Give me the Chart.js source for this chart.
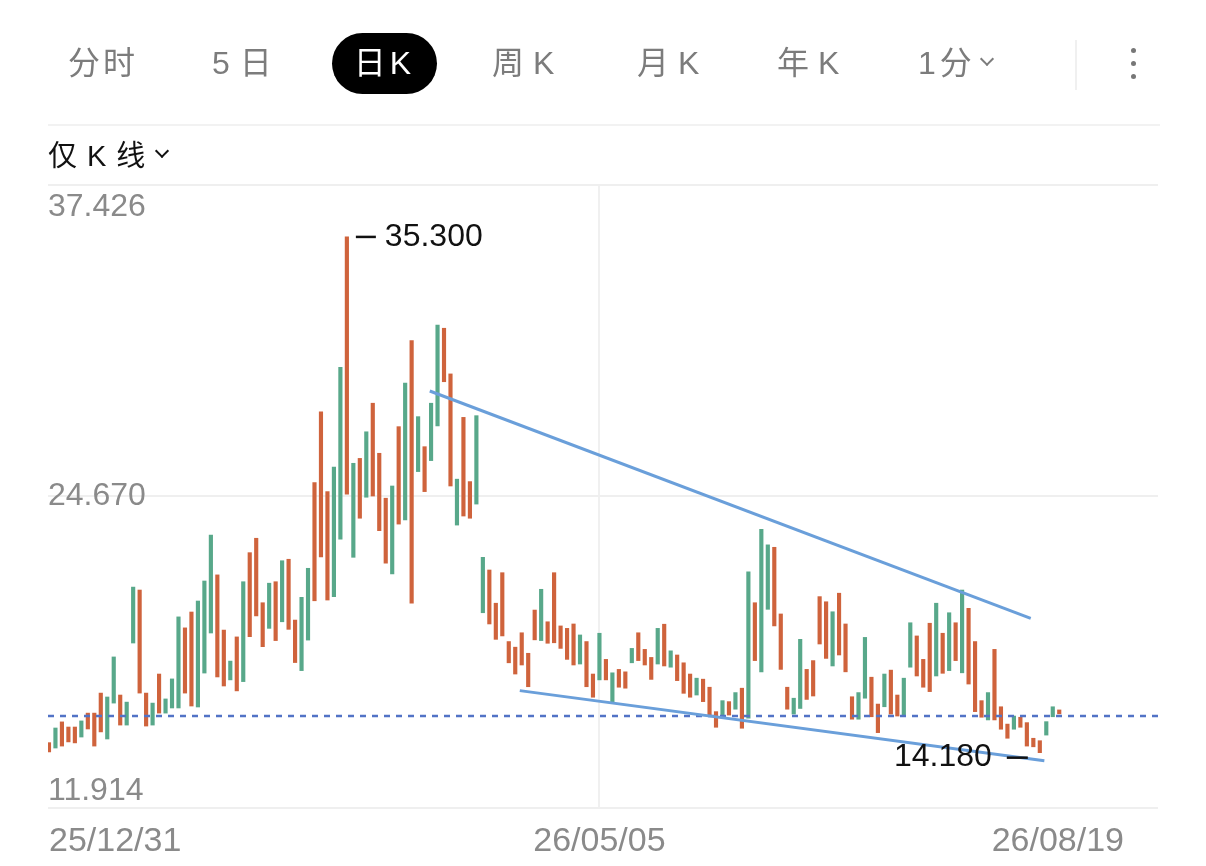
<!DOCTYPE html>
<html>
<head>
<meta charset="utf-8">
<script src="https://cdn.jsdelivr.net/npm/chart.js@4.4.0/dist/chart.umd.min.js"></script>
<style>
  html,body{margin:0;padding:0;background:#fff;}
  #wrap{position:relative;width:1206px;height:866px;overflow:hidden;font-family:"Liberation Sans","Noto Sans CJK SC",sans-serif;}
  #chart{position:absolute;left:0;top:0;}
  .tab{position:absolute;top:40px;font-size:32px;line-height:46px;color:#7c7c7c;letter-spacing:9px;white-space:nowrap;}
  .pill{position:absolute;left:332px;top:33px;width:105px;height:61px;border-radius:31px;background:#000;color:#fff;font-size:32px;line-height:61px;text-align:center;letter-spacing:4px;}
  .chev{display:inline-block;width:8px;height:8px;border-right:2px solid currentColor;border-bottom:2px solid currentColor;transform:rotate(45deg);vertical-align:middle;position:relative;top:-7px;}
  .vsep{position:absolute;left:1075px;top:40px;width:2px;height:50px;background:#f0f0f0;}
  .dot{position:absolute;left:1131px;width:5px;height:5px;border-radius:3px;background:#777;}
  .hline{position:absolute;left:48px;width:1112px;height:2px;background:#f2f2f2;}
  #kmode{position:absolute;left:48px;top:136px;font-size:29px;line-height:40px;color:#111;letter-spacing:10px;white-space:nowrap;}
</style>
</head>
<body>
<div id="wrap">
  <canvas id="chart" width="1206" height="866"></canvas>
  <span class="tab" style="left:68px;letter-spacing:3px">分时</span>
  <span class="tab" style="left:212px;letter-spacing:10px">5日</span>
  <div class="pill">日K</div>
  <span class="tab" style="left:492px">周K</span>
  <span class="tab" style="left:637px">月K</span>
  <span class="tab" style="left:777px">年K</span>
  <span class="tab" style="left:918px;letter-spacing:4px">1分<span class="chev" style="margin-left:6px"></span></span>
  <div class="vsep"></div>
  <div class="dot" style="top:48px"></div>
  <div class="dot" style="top:61px"></div>
  <div class="dot" style="top:74px"></div>
  <div class="hline" style="top:124px"></div>
  <div id="kmode">仅K线<span class="chev" style="color:#111;margin-left:2px"></span></div>
</div>
<script>
// daily candles (body only), oldest first
const openVals = [
  14.21,15.19,14.45,14.62,14.58,15.48,15.15,14.45,15.03,16.46,
  18.10,15.31,16.25,20.96,16.62,15.27,16.21,15.80,16.38,17.20,
  19.74,16.62,16.09,20.39,21.21,23.09,17.28,16.91,17.93,16.71,
  21.18,18.93,19.78,18.52,21.12,18.77,22.04,19.23,17.87,20.54,
  21.73,20.40,22.20,20.43,25.87,29.96,24.77,26.03,23.78,27.32,
  24.69,23.27,21.94,25.10,23.54,29.31,20.30,27.94,24.87,28.49,
  31.69,29.37,25.10,25.38,23.87,23.78,27.98,22.18,19.45,18.82,
  18.96,17.86,17.40,17.77,16.88,18.80,20.87,18.66,18.68,18.45,
  18.00,17.77,19.00,16.88,16.45,19.07,17.16,17.45,16.86,16.82,
  18.45,17.95,17.77,17.18,19.27,17.73,18.35,17.13,16.61,16.45,
  17.23,16.27,15.72,15.22,16.31,15.72,16.64,15.18,21.59,17.95,
  23.33,22.69,19.37,17.59,15.96,16.41,18.82,16.36,16.50,18.63,
  18.04,19.95,18.18,17.49,15.55,16.64,18.90,15.65,15.00,17.40,
  15.76,15.68,17.23,19.50,17.32,16.86,16.68,20.30,17.43,19.91,
  17.95,20.84,16.99,15.86,15.63,16.64,15.52,15.14,14.77,15.68,
  15.22,14.45,14.42,14.18,15.45,16.06,15.77
];
const closeVals = [
  14.59,14.37,15.44,15.23,15.23,14.82,15.80,15.80,16.62,14.74,
  16.21,16.54,15.31,18.67,20.84,16.62,15.31,17.40,15.80,16.01,
  16.01,19.29,19.94,16.05,17.44,19.08,21.46,19.20,17.16,18.92,
  17.09,22.37,22.96,20.32,19.27,21.18,19.54,22.10,19.61,17.54,
  18.79,25.24,28.14,24.87,20.57,22.92,35.30,22.18,26.23,24.64,
  28.49,26.44,24.60,21.50,27.53,23.71,31.05,25.69,26.71,26.14,
  27.56,31.56,29.69,23.50,27.91,25.28,24.36,19.91,21.66,20.30,
  21.55,18.73,18.50,19.09,18.25,20.02,18.77,19.54,21.55,19.37,
  19.27,19.45,17.81,18.73,17.40,17.16,18.00,16.23,17.59,17.49,
  17.86,19.09,18.41,18.08,17.81,19.44,17.68,18.18,17.86,17.40,
  16.54,17.19,16.86,15.86,15.72,16.27,15.96,16.82,15.59,20.32,
  17.49,20.05,22.59,19.86,16.86,15.76,15.99,17.59,17.95,20.57,
  20.36,17.73,20.71,19.45,16.47,15.55,16.41,17.27,16.17,16.06,
  17.56,16.54,15.72,17.68,18.96,18.00,19.48,17.32,19.07,17.54,
  19.50,17.45,20.09,18.73,16.31,15.52,18.41,16.06,15.35,15.14,
  15.63,15.41,14.77,14.67,14.90,15.65,15.93
];

const yTicks = [11.914, 24.670, 37.426];
const xTickIdx = [0, 85, 166];
const xTickLabels = ['25/12/31', '26/05/05', '26/08/19'];
const xMin = -0.15, xMax = 171.25;

const lastPrice = 15.68;
// drawn trend lines [index, price]
const upperTrend = [[58.8, 28.99], [151.6, 19.68]];
const lowerTrend = [[72.7, 16.72], [153.7, 13.85]];

const UP = '#cf633c', DOWN = '#58a88a';

const candles = openVals.map((o, i) => ({x: i, y: [Math.min(o, closeVals[i]), Math.max(o, closeVals[i])]}));
const candleColors = openVals.map((o, i) => closeVals[i] >= o ? UP : DOWN);

const yLabels = {
  id: 'yLabels',
  beforeDatasetsDraw(chart){
    const {ctx, chartArea, scales:{y}} = chart;
    ctx.save();
    ctx.font = '32px "Liberation Sans", Arial, sans-serif';
    ctx.fillStyle = '#8a8a8a';
    ctx.textAlign = 'left';
    ctx.textBaseline = 'middle';
    yTicks.forEach((v, i) => {
      let py = y.getPixelForValue(v);
      if (i === 0) py -= 17;
      if (i === yTicks.length - 1) py += 22;
      ctx.fillText(v.toFixed(3), chartArea.left, py);
    });
    ctx.restore();
  }
};

const extremes = {
  id: 'extremes',
  afterDatasetsDraw(chart){
    const {ctx, scales:{x, y}} = chart;
    const highs = candles.map(c => c.y[1]), lows = candles.map(c => c.y[0]);
    const hi = Math.max(...highs), lo = Math.min(...lows);
    const hiI = highs.indexOf(hi), loI = lows.indexOf(lo);
    ctx.save();
    ctx.font = '32px "Liberation Sans", Arial, sans-serif';
    ctx.fillStyle = '#111';
    ctx.strokeStyle = '#111';
    ctx.lineWidth = 2.5;
    ctx.textBaseline = 'middle';
    let px = x.getPixelForValue(hiI), py = y.getPixelForValue(hi);
    ctx.beginPath(); ctx.moveTo(px + 9, py); ctx.lineTo(px + 29, py); ctx.stroke();
    ctx.textAlign = 'left';
    ctx.fillText(hi.toFixed(3), px + 38, py);
    px = x.getPixelForValue(loI); py = y.getPixelForValue(lo) + 5;
    ctx.beginPath(); ctx.moveTo(px - 33, py); ctx.lineTo(px - 12, py); ctx.stroke();
    ctx.textAlign = 'right';
    ctx.fillText(lo.toFixed(3), px - 48, py);
    ctx.restore();
  }
};

new Chart(document.getElementById('chart'), {
  type: 'bar',
  data: {
    datasets: [
      {
        label: 'K',
        data: candles,
        backgroundColor: candleColors,
        borderWidth: 0,
        barThickness: 3.5,
        order: 3
      },
      {
        type: 'line',
        label: 'last',
        data: [{x: xMin, y: lastPrice}, {x: xMax, y: lastPrice}],
        borderColor: '#5273c6',
        borderWidth: 2.5,
        borderDash: [6, 6],
        pointRadius: 0,
        order: 2
      },
      {
        type: 'line',
        label: 'upper',
        data: upperTrend.map(p => ({x: p[0], y: p[1]})),
        borderColor: '#6a9fda',
        borderWidth: 3,
        pointRadius: 0,
        order: 1
      },
      {
        type: 'line',
        label: 'lower',
        data: lowerTrend.map(p => ({x: p[0], y: p[1]})),
        borderColor: '#6a9fda',
        borderWidth: 3,
        pointRadius: 0,
        order: 1
      }
    ]
  },
  options: {
    responsive: false,
    animation: false,
    devicePixelRatio: 1,
    layout: { padding: { left: 48, right: 48, top: 185, bottom: 5 } },
    plugins: { legend: { display: false }, tooltip: { enabled: false } },
    scales: {
      x: {
        type: 'linear',
        min: xMin,
        max: xMax,
        offset: false,
        grid: {
          offset: false,
          drawTicks: false,
          lineWidth: 2,
          color: ctx => (ctx.tick && ctx.tick.value === 85) ? '#f0f0f0' : 'rgba(0,0,0,0)'
        },
        border: { display: false },
        afterBuildTicks: s => { s.ticks = xTickIdx.map(v => ({value: v})); },
        afterFit: s => { s.height = 53; },
        ticks: {
          autoSkip: false,
          maxRotation: 0,
          align: 'inner',
          padding: 13,
          color: '#8a8a8a',
          font: { size: 34, family: '"Liberation Sans", Arial, sans-serif' },
          callback: v => xTickLabels[xTickIdx.indexOf(v)]
        }
      },
      y: {
        min: yTicks[0],
        max: yTicks[2],
        grid: { drawTicks: false, color: '#efefef', lineWidth: 2 },
        border: { display: false },
        afterBuildTicks: s => { s.ticks = yTicks.map(v => ({value: v})); },
        ticks: { display: false }
      }
    }
  },
  plugins: [yLabels, extremes]
});
</script>
</body>
</html>
